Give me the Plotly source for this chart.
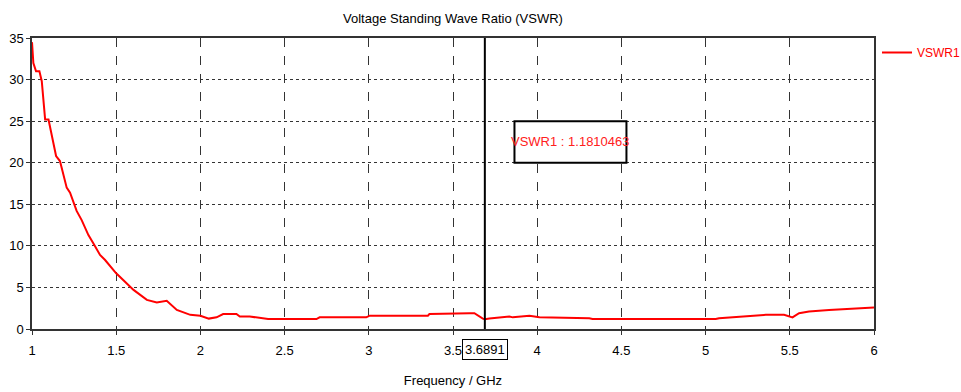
import plotly.graph_objects as go

freq_ghz = [1.0, 1.008, 1.024, 1.044, 1.058, 1.078, 1.098, 1.11, 1.143, 1.166, 1.206, 1.226,
            1.265, 1.295, 1.335, 1.364, 1.404, 1.434, 1.5, 1.603, 1.682, 1.741, 1.8, 1.86,
            1.94, 2.0, 2.05, 2.096, 2.135, 2.214, 2.234, 2.293, 2.402, 2.689, 2.708, 2.985,
            3.005, 3.351, 3.36, 3.598, 3.627, 3.677, 3.6891, 3.716, 3.835, 3.855, 3.954,
            4.013, 4.309, 4.329, 5.06, 5.08, 5.229, 5.357, 5.466, 5.516, 5.555, 5.614,
            5.733, 5.891, 6.0]
vswr1 = [34.5, 32.0, 31.0, 31.0, 29.8, 25.2, 25.2, 24.0, 20.8, 20.2, 17.0, 16.4,
         14.2, 13.1, 11.3, 10.3, 8.9, 8.3, 6.7, 4.7, 3.5, 3.2, 3.4, 2.3,
         1.7, 1.6, 1.25, 1.4, 1.8, 1.8, 1.5, 1.5, 1.2, 1.2, 1.4, 1.4,
         1.6, 1.6, 1.8, 1.9, 1.9, 1.25, 1.18, 1.25, 1.5, 1.4, 1.6,
         1.4, 1.3, 1.2, 1.2, 1.3, 1.5, 1.7, 1.7, 1.4, 1.9, 2.1,
         2.3, 2.5, 2.6]

marker_x = 3.6891
marker_label = "3.6891"
marker_text = "VSWR1 : 1.1810463"
box_x = [3.865, 4.53]
box_y = [20, 25]

x_ticks = [1, 1.5, 2, 2.5, 3, 3.5, 4, 4.5, 5, 5.5, 6]
x_ticklabels = ["1", "1.5", "2", "2.5", "3", "3.5", "4", "4.5", "5", "5.5", "6"]
y_ticks = [0, 5, 10, 15, 20, 25, 30, 35]

FONT = "Liberation Sans, Arial, sans-serif"
FS = 13

fig = go.Figure()
fig.add_trace(go.Scatter(x=freq_ghz, y=vswr1, mode="lines", name="VSWR1",
                         line=dict(color="#ff0000", width=2)))

# marker line
fig.add_shape(type="line", x0=marker_x, x1=marker_x, y0=0, y1=35, xref="x", yref="y",
              line=dict(color="black", width=2))
# marker value box
fig.add_shape(type="rect", x0=box_x[0], x1=box_x[1], y0=box_y[0], y1=box_y[1],
              xref="x", yref="y", line=dict(color="black", width=2), fillcolor="white")
fig.add_annotation(x=sum(box_x) / 2, y=sum(box_y) / 2, xref="x", yref="y",
                   text=marker_text, showarrow=False,
                   font=dict(color="#ff2020", size=FS, family=FONT))
# marker x label
fig.add_annotation(x=marker_x, y=0, xref="x", yref="y", yshift=-20,
                   text=marker_label, showarrow=False, bgcolor="white",
                   bordercolor="black", borderwidth=1, borderpad=2,
                   font=dict(color="black", size=FS, family=FONT))

fig.update_layout(
    width=961, height=392,
    margin=dict(l=32, r=87, t=38, b=63, autoexpand=False),
    paper_bgcolor="white", plot_bgcolor="white",
    font=dict(family=FONT, size=FS, color="black"),
    title=dict(text="Voltage Standing Wave Ratio (VSWR)", x=453 / 961, xanchor="center",
               y=1 - 18 / 392, yanchor="middle", font=dict(size=FS, family=FONT)),
    showlegend=True,
    legend=dict(x=(877 - 32) / 842, y=1.0, xanchor="left", yanchor="top",
                font=dict(color="#ff0000", size=12, family=FONT),
                bgcolor="rgba(0,0,0,0)", itemwidth=30, tracegroupgap=0),
)
fig.update_xaxes(range=[1, 6], tickvals=x_ticks, ticktext=x_ticklabels, automargin=False,
                 showgrid=True, gridcolor="#333333", griddash="dash", gridwidth=1,
                 showline=True, linecolor="#333333", linewidth=1.5, mirror=True,
                 ticks="outside", ticklen=4, tickcolor="#333333", ticklabelstandoff=5,
                 tickfont=dict(size=FS, family=FONT),
                 title=dict(text="Frequency / GHz", standoff=19, font=dict(size=FS, family=FONT)),
                 zeroline=False)
fig.update_yaxes(range=[0, 35], tickvals=y_ticks, automargin=False,
                 showgrid=True, gridcolor="#333333", griddash="dot", gridwidth=1,
                 showline=True, linecolor="#333333", linewidth=1.5, mirror=True,
                 ticks="outside", ticklen=4, tickcolor="#333333",
                 tickfont=dict(size=FS, family=FONT), zeroline=False)

fig.write_html("out.html", config={"displayModeBar": False},
               post_script="document.body.style.margin='0';")
